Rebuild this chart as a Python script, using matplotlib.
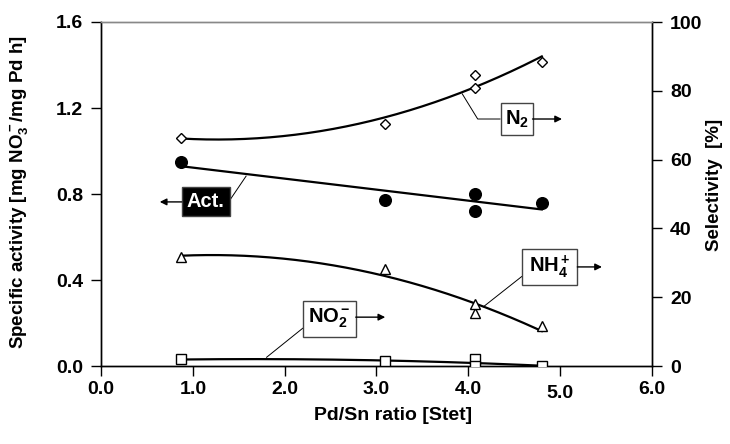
import numpy as np
import matplotlib
matplotlib.use("Agg")
import matplotlib.pyplot as plt
from matplotlib.patches import Rectangle
from matplotlib.transforms import ScaledTranslation

plt.rcParams['font.family'] = ['Liberation Sans', 'DejaVu Sans']
plt.rcParams['font.weight'] = 'bold'
plt.rcParams['mathtext.fontset'] = 'custom'
plt.rcParams['mathtext.rm'] = 'Liberation Sans:bold'
plt.rcParams['mathtext.bf'] = 'Liberation Sans:bold'
plt.rcParams['mathtext.it'] = 'Liberation Sans:bold'

# Pd/Sn ratio of each catalyst
pd_sn = [0.87, 3.09, 4.07, 4.07, 4.80]
# specific activity, mg NO3-/mg Pd h (left axis)
activity = [0.950, 0.772, 0.800, 0.722, 0.760]
# selectivities, % (right axis)
sel_n2 = [66.4, 70.3, 84.6, 80.7, 88.5]
sel_nh4 = [31.8, 28.1, 15.3, 18.0, 11.6]
sel_no2 = [1.9, 1.5, 1.9, 0.0, 0.0]

x_ticks = [0.0, 1.0, 2.0, 3.0, 4.0, 5.0, 6.0]
left_ticks = [0.0, 0.4, 0.8, 1.2, 1.6]
right_ticks = [0, 20, 40, 60, 80, 100]

W, H = 730, 444
fig = plt.figure(figsize=(W / 100, H / 100), dpi=100)
ax = fig.add_axes([101 / W, 1 - 366 / H, (652 - 101) / W, (366 - 22) / H])
ax2 = ax.twinx()

x = np.array(pd_sn)
xf = np.linspace(x.min(), x.max(), 200)

def trend(y, deg):
    c = np.polyfit(x, np.array(y), deg)
    return np.polyval(c, xf)

lw = 1.6
# activity on left axis
ax.plot(xf, trend(activity, 1), color='black', lw=lw, zorder=2)
ax.plot(pd_sn, activity, 'o', ms=8.4, color='black', zorder=3)

# selectivities on right axis
for ys, mk, ms in [(sel_n2, 'D', 5.6), (sel_nh4, '^', 7.6), (sel_no2, 's', 7.8)]:
    ax2.plot(xf, trend(ys, 2), color='black', lw=lw, zorder=2)
    ax2.plot(pd_sn, ys, mk, ms=ms, mfc='white', mec='black', mew=1.0, zorder=3)

ax.set_xlim(0, 6)
ax.set_ylim(0, 1.6)
ax2.set_ylim(0, 100)

ax.set_xticks(x_ticks)
ax.set_xticklabels([f"{v:.1f}" for v in x_ticks])
ax.set_yticks(left_ticks)
ax.set_yticklabels([f"{v:.1f}" for v in left_ticks])
ax2.set_yticks(right_ticks)
ax2.set_yticklabels([str(v) for v in right_ticks])

for a in (ax, ax2):
    a.tick_params(direction='out', length=7, width=1.0, labelsize=14, pad=6)
    for s in a.spines.values():
        s.set_linewidth(1.0)
    a.spines['top'].set_color('#888888')
    a.set_zorder(1)
ax.tick_params(axis='x', pad=4)
ax.patch.set_visible(False)

# the 5.0 label sits slightly lower
lab5 = ax.get_xticklabels()[5]
lab5.set_transform(lab5.get_transform() + ScaledTranslation(0, -4 / 100, fig.dpi_scale_trans))

ax.set_xlabel("Pd/Sn ratio [Stet]", fontsize=14, fontweight='bold')
ax.xaxis.set_label_coords(0.53, -0.118)
ax.set_ylabel(r"Specific activity [mg NO$_3^-$/mg Pd h]", fontsize=13.5, fontweight='bold')
ax.yaxis.set_label_coords(-0.128, 0.505)
ax2.set_ylabel("Selectivity  [%]", fontsize=13.5, fontweight='bold')
ax2.yaxis.set_label_coords(1.098, 0.526)

# callout boxes (right-axis data coordinates)
sx = 6 / (652 - 101)
sy = 100 / (366 - 22)

def box(cx, cy, wpx, hpx, label, fc, tc, fs):
    w, h = wpx * sx, hpx * sy
    ax2.add_patch(Rectangle((cx - w / 2, cy - h / 2), w, h, facecolor=fc,
                            edgecolor='#444444', lw=1.0, zorder=5, clip_on=False))
    ax2.text(cx, cy, label, ha='center', va='center', color=tc, fontsize=fs,
             fontweight='bold', zorder=6)

def arrow(x0, y0, x1, y1):
    ax2.annotate('', xy=(x1, y1), xytext=(x0, y0),
                 arrowprops=dict(arrowstyle='-|>', color='black', lw=1.0,
                                 mutation_scale=10, shrinkA=0, shrinkB=0),
                 zorder=5, annotation_clip=False)

def leader(xs, ys):
    ax2.plot(xs, ys, color='black', lw=0.7, zorder=4, clip_on=False)

# Act.
box(1.14, 47.7, 48, 29, "Act.", 'black', 'white', 14.5)
arrow(0.879, 47.7, 0.64, 47.7)
leader([1.405, 1.58], [48.3, 55.2])

# N2
box(4.525, 71.8, 32, 32, r"N$_2$", 'white', 'black', 14.5)
arrow(4.699, 71.8, 5.02, 71.8)
leader([4.345, 4.102, 3.934], [71.8, 71.8, 79.1])

# NH4+
box(4.884, 28.8, 55, 36, r"NH$_4^+$", 'white', 'black', 14.5)
arrow(5.187, 28.8, 5.455, 28.8)
leader([4.581, 4.163], [26.0, 17.2])

# NO2-
box(2.485, 13.75, 53, 36, r"NO$_2^-$", 'white', 'black', 14.5)
arrow(2.774, 14.2, 3.095, 14.2)
leader([2.196, 1.803], [10.96, 2.53])

fig.savefig("out.png", dpi=100)
